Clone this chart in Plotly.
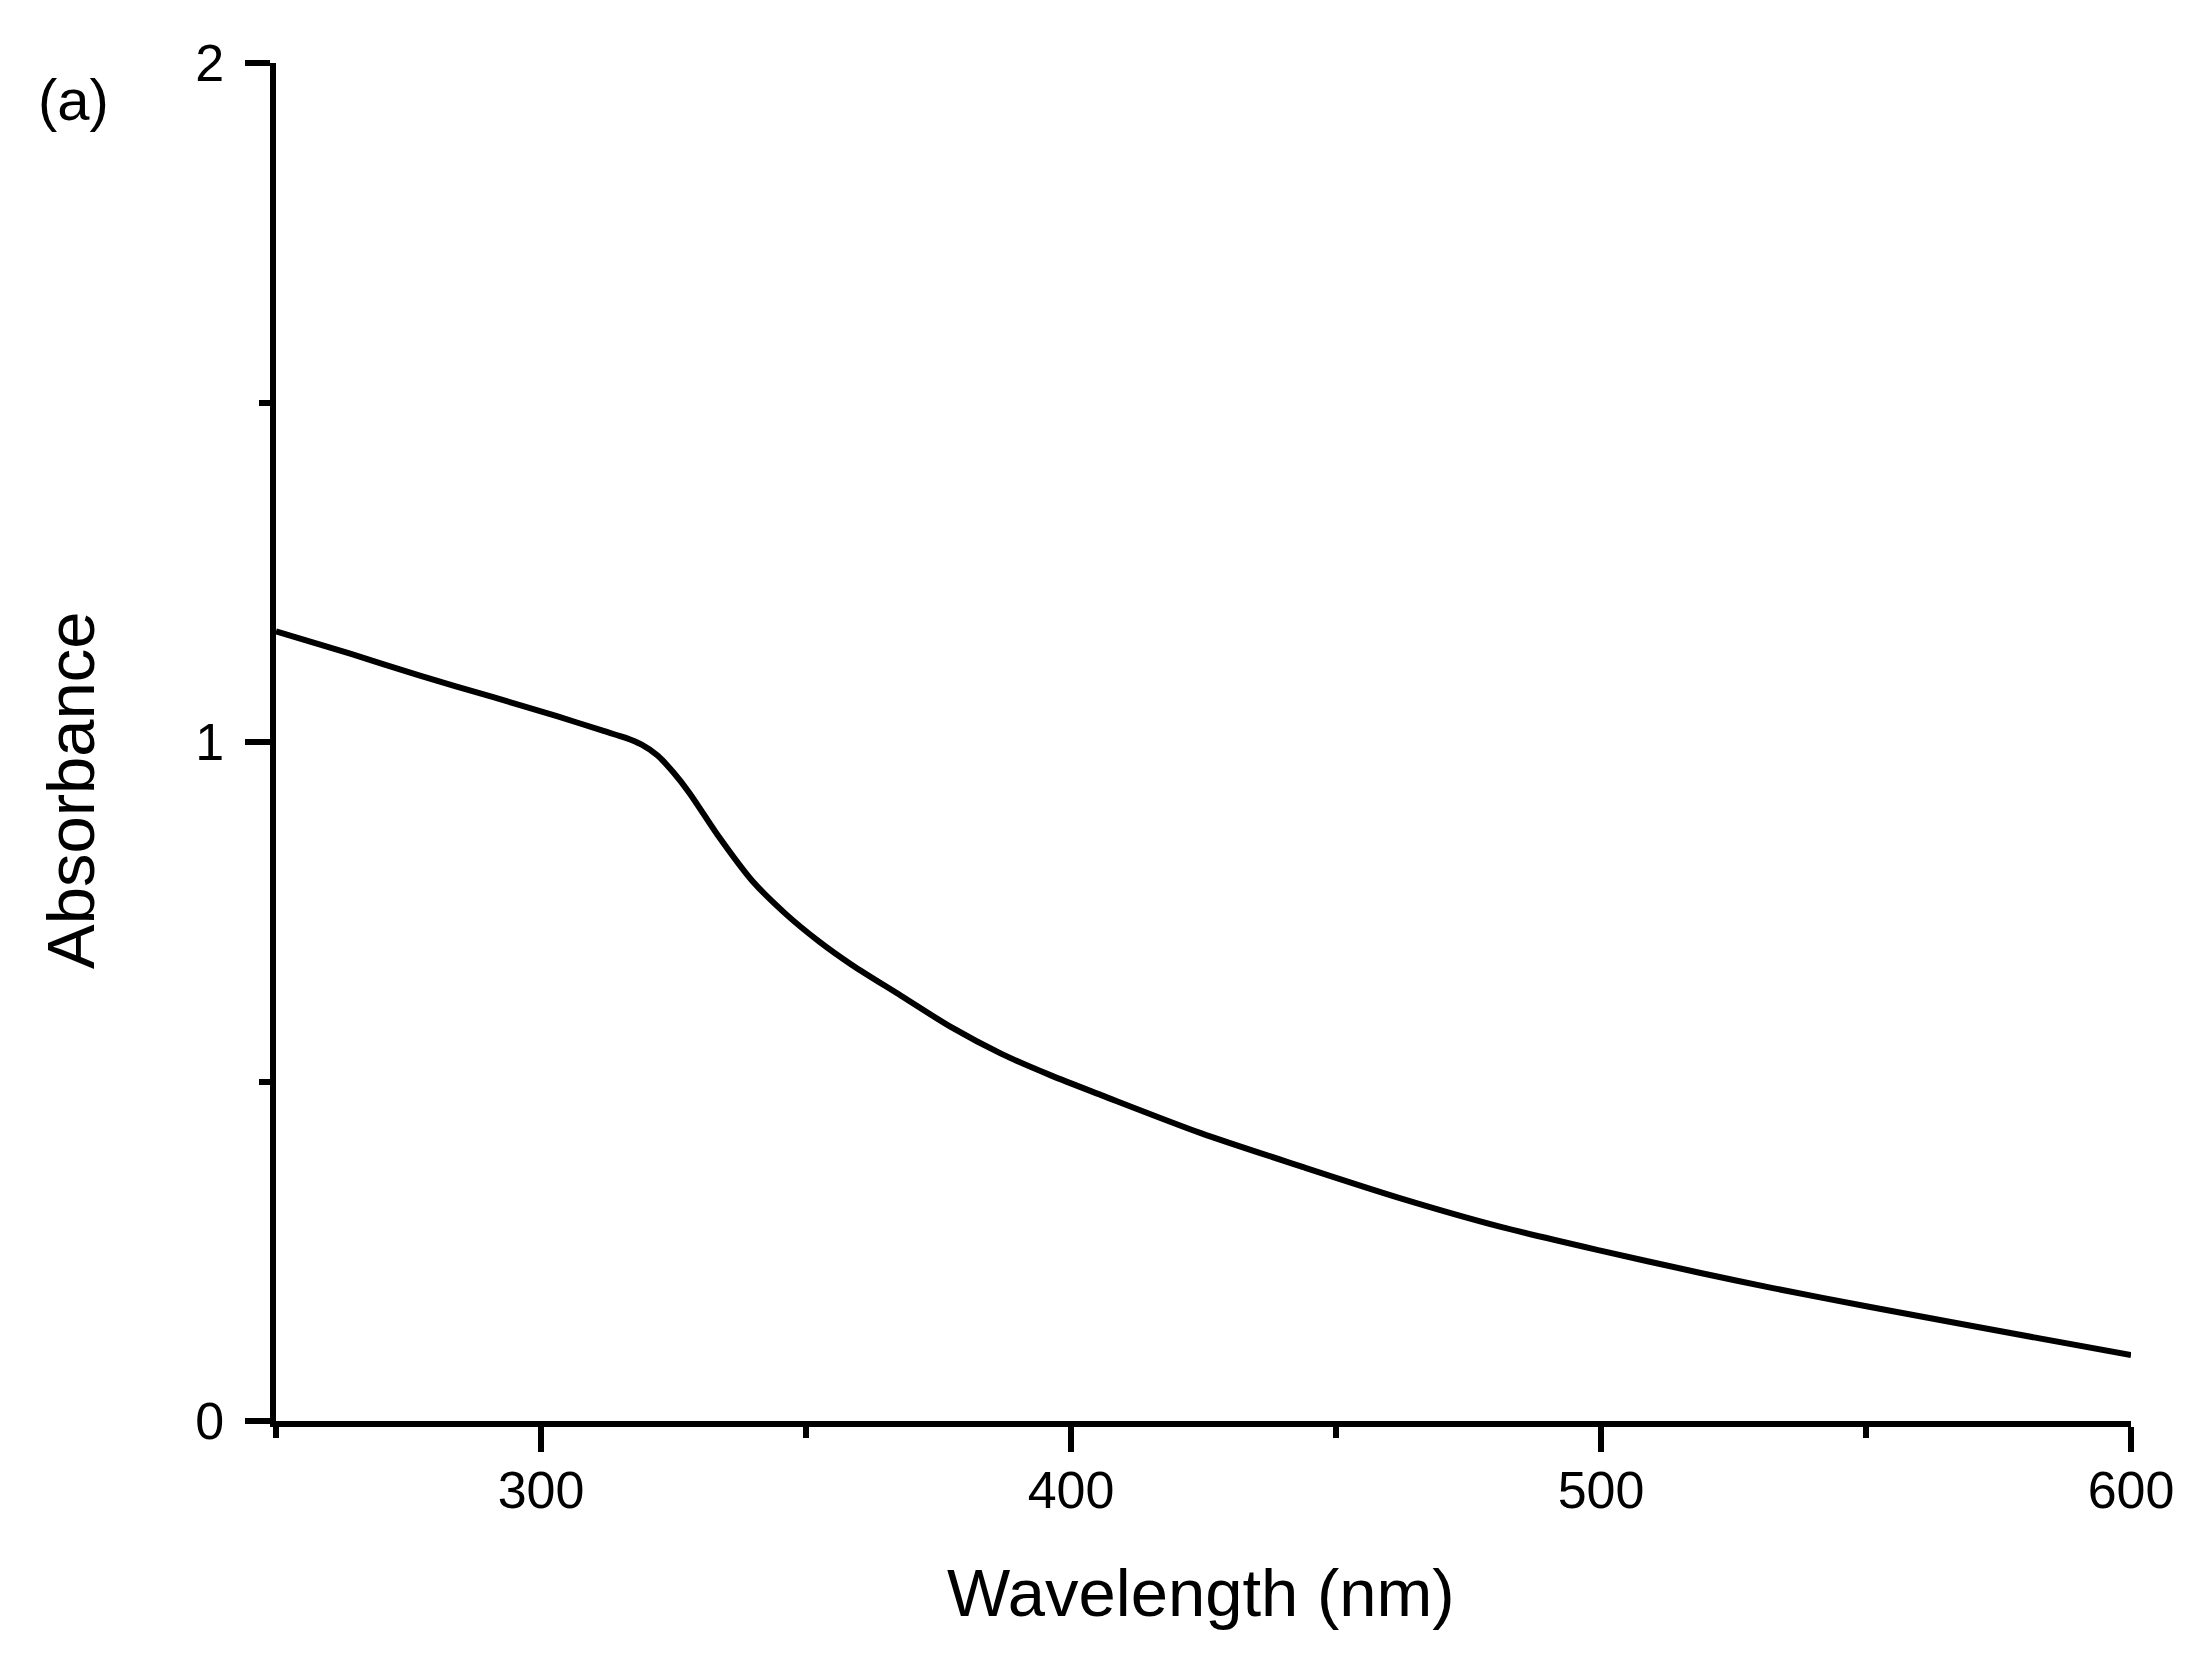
import plotly.graph_objects as go

wavelength = [250, 264, 277, 291, 303, 311.5, 316, 319, 322, 325, 328, 333.6, 339.8, 346, 352.5,
              358.6, 368, 377.4, 386.8, 396.2, 405.7, 424.5, 443.4, 462.2, 481.1, 499.9, 518.8,
              532.2, 550.8, 569.3, 600]
absorbance = [1.163, 1.130, 1.098, 1.066, 1.038, 1.017, 1.006, 0.996, 0.980, 0.955, 0.925, 0.860,
              0.796, 0.748, 0.706, 0.672, 0.626, 0.580, 0.541, 0.509, 0.480, 0.424, 0.375, 0.328,
              0.286, 0.251, 0.218, 0.196, 0.168, 0.141, 0.097]

x_title = "Wavelength (nm)"
y_title = "Absorbance"
panel_label = "(a)"

FONT = "Liberation Sans, Arial, sans-serif"
OFF = 8  # page body margin
W, H = 2204 - OFF, 1663 - OFF
# target absolute pixel positions of the plot area
X0, X1, Y0, Y1 = 276, 2131, 63, 1421
L, R, T, B = X0 - OFF, 2204 - X1, Y0 - OFF, 1663 - Y1
PW, PH = X1 - X0, Y1 - Y0

def px_x(px):
    return (px - X0) / PW

def px_y(py):
    return (Y1 - py) / PH

fig = go.Figure()
fig.add_trace(go.Scatter(x=wavelength, y=absorbance, mode="lines",
                         line=dict(color="black", width=6, shape="spline", smoothing=0.8),
                         showlegend=False, hoverinfo="skip"))

tick_font = dict(size=52, family=FONT, color="black")
fig.update_layout(
    width=W, height=H,
    margin=dict(l=L, r=R, t=T, b=B, pad=0),
    paper_bgcolor="white", plot_bgcolor="white",
    font=dict(family=FONT, color="black"),
    xaxis=dict(range=[250, 600], tick0=0, dtick=100, ticks="outside", ticklen=25, tickwidth=6,
               tickcolor="black", showline=True, linecolor="black", linewidth=6, showgrid=False,
               zeroline=False, tickfont=tick_font, ticklabelstandoff=-6,
               minor=dict(tick0=0, dtick=50, ticks="outside", ticklen=11, tickwidth=6, tickcolor="black", showgrid=False)),
    yaxis=dict(range=[0, 2], tick0=0, dtick=1, ticks="outside", ticklen=25, tickwidth=6,
               tickcolor="black", showline=True, linecolor="black", linewidth=6, showgrid=False,
               zeroline=False, tickfont=tick_font, ticksuffix="\u2009",
               minor=dict(tick0=0, dtick=0.5, ticks="outside", ticklen=11, tickwidth=6, tickcolor="black", showgrid=False)),
    annotations=[
        dict(text=x_title, xref="paper", yref="paper", x=px_x(1201), y=px_y(1592),
             xanchor="center", yanchor="middle", showarrow=False, font=dict(size=67, family=FONT, color="black")),
        dict(text=y_title, xref="paper", yref="paper", x=px_x(70), y=px_y(790), textangle=-90,
             xanchor="center", yanchor="middle", showarrow=False, font=dict(size=67, family=FONT, color="black")),
        dict(text=panel_label, xref="paper", yref="paper", x=px_x(73), y=px_y(99),
             xanchor="center", yanchor="middle", showarrow=False, font=dict(size=58, family=FONT, color="black")),
    ],
)

fig.write_html("out.html")
